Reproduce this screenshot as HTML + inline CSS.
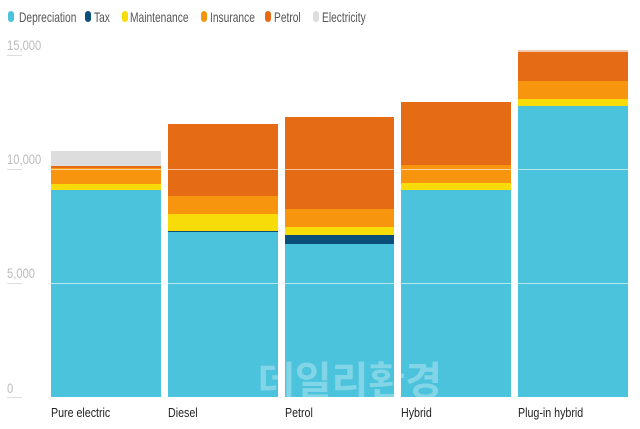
<!DOCTYPE html><html><head><style>
body{margin:0;background:#fff;font-family:"Liberation Sans","Noto Sans CJK KR",sans-serif;}
.c{position:relative;width:640px;height:429px;overflow:hidden}
.l{position:absolute;top:9px;font-size:14px;color:#555;transform:scaleX(0.73);transform-origin:left;white-space:nowrap}
.d{position:absolute;top:11px;width:6px;height:11px;border-radius:3px}
.y{position:absolute;left:7px;font-size:14px;color:#bbb;transform:scaleX(0.8);transform-origin:left}
.x{position:absolute;top:405px;font-size:13px;color:#222;transform:scaleX(0.82);transform-origin:left;white-space:nowrap}
</style></head><body><div class="c">
<span class="d" style="left:8px;background:#4cc3dc"></span><div class="l" style="left:19px">Depreciation</div>
<span class="d" style="left:85px;background:#0a4f7a"></span><div class="l" style="left:94px">Tax</div>
<span class="d" style="left:122px;background:#f8dc0a"></span><div class="l" style="left:130px">Maintenance</div>
<span class="d" style="left:201px;background:#f7960e"></span><div class="l" style="left:210px">Insurance</div>
<span class="d" style="left:265px;background:#e66b15"></span><div class="l" style="left:274px">Petrol</div>
<span class="d" style="left:313px;background:#ddd"></span><div class="l" style="left:322px">Electricity</div>
<div class="y" style="top:37px">15,000</div>
<div class="y" style="top:151px">10,000</div>
<div class="y" style="top:265px">5,000</div>
<div class="y" style="top:380px">0</div>
<div style="position:absolute;left:7px;width:15px;height:1px;background:#ddd;top:55px"></div>
<div style="position:absolute;left:7px;width:15px;height:1px;background:#ddd;top:169px"></div>
<div style="position:absolute;left:7px;width:15px;height:1px;background:#ddd;top:283px"></div>
<div style="position:absolute;left:7px;width:15px;height:1px;background:#ddd;top:397px"></div>
<svg width="640" height="429" style="position:absolute;left:0;top:0">
<g>
<rect x="51" y="151" width="110" height="15" fill="#ddd"/><rect x="51" y="166" width="110" height="2" fill="#e66b15"/><rect x="51" y="168" width="110" height="16" fill="#f7960e"/><rect x="51" y="184" width="110" height="6" fill="#f8dc0a"/><rect x="51" y="190" width="110" height="207" fill="#4cc3dc"/>
<rect x="168" y="124" width="110" height="72" fill="#e66b15"/><rect x="168" y="196" width="110" height="18" fill="#f7960e"/><rect x="168" y="214" width="110" height="17" fill="#f8dc0a"/><rect x="168" y="231" width="110" height="1" fill="#0a4f7a"/><rect x="168" y="232" width="110" height="165" fill="#4cc3dc"/>
<rect x="285" y="117" width="109" height="92" fill="#e66b15"/><rect x="285" y="209" width="109" height="18" fill="#f7960e"/><rect x="285" y="227" width="109" height="8" fill="#f8dc0a"/><rect x="285" y="235" width="109" height="9" fill="#0a4f7a"/><rect x="285" y="244" width="109" height="153" fill="#4cc3dc"/>
<rect x="401" y="102" width="110" height="63" fill="#e66b15"/><rect x="401" y="165" width="110" height="18" fill="#f7960e"/><rect x="401" y="183" width="110" height="7" fill="#f8dc0a"/><rect x="401" y="190" width="110" height="207" fill="#4cc3dc"/>
<rect x="518" y="50" width="110" height="2" fill="#f3c9b0"/><rect x="518" y="52" width="110" height="29" fill="#e66b15"/><rect x="518" y="81" width="110" height="18" fill="#f7960e"/><rect x="518" y="99" width="110" height="7" fill="#f8dc0a"/><rect x="518" y="106" width="110" height="291" fill="#4cc3dc"/>
</g>
<line x1="51" x2="628" y1="169.5" y2="169.5" stroke="#fff" stroke-opacity=".6"/>
<line x1="51" x2="628" y1="283.5" y2="283.5" stroke="#fff" stroke-opacity=".6"/>
<text x="350" y="395" text-anchor="middle" font-size="40" font-weight="bold" fill="#fff" fill-opacity=".3" font-family="Noto Sans CJK KR,sans-serif">데일리환경</text>
</svg>
<div class="x" style="left:51px">Pure electric</div>
<div class="x" style="left:168px">Diesel</div>
<div class="x" style="left:285px">Petrol</div>
<div class="x" style="left:401px">Hybrid</div>
<div class="x" style="left:518px">Plug-in hybrid</div>
</div></body></html>
